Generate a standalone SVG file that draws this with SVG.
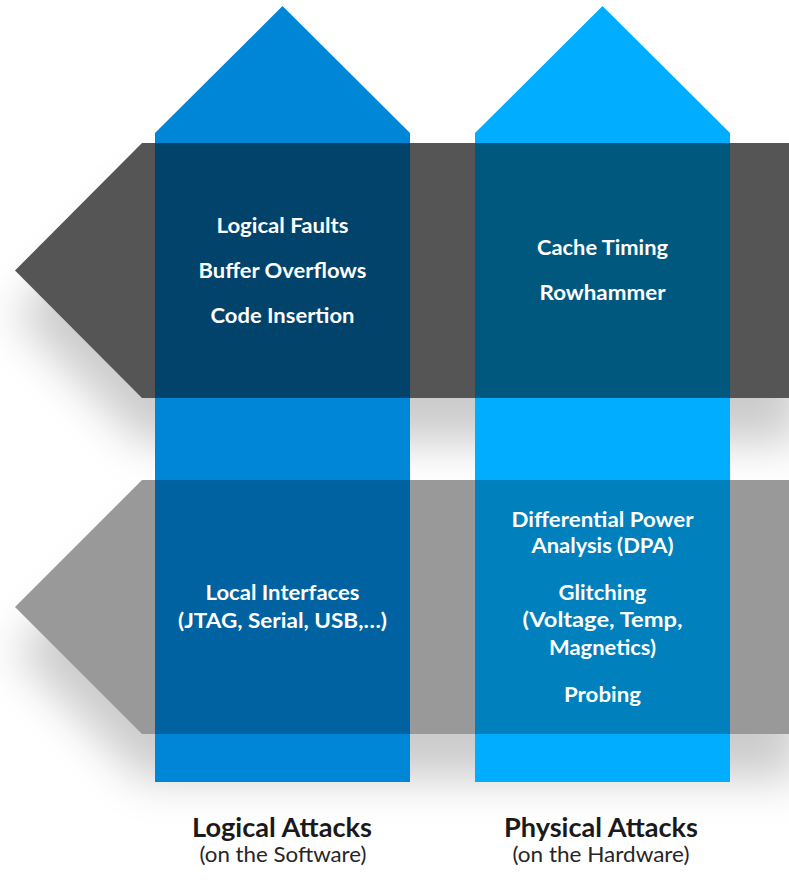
<svg xmlns="http://www.w3.org/2000/svg" width="789" height="880" viewBox="0 0 789 880">
<defs>
<filter id="soft" filterUnits="userSpaceOnUse" x="-100" y="0" width="1000" height="1000">
<feGaussianBlur stdDeviation="22"/>
</filter>
<style>
.w{font-family:Lato,"Open Sans","Liberation Sans",sans-serif;font-weight:700;font-size:20px;fill:#ffffff;text-anchor:middle}
.h{font-family:Lato,"Open Sans","Liberation Sans",sans-serif;font-weight:700;font-size:26px;fill:#1a1a1a;text-anchor:middle}
.s{font-family:Lato,"Open Sans","Liberation Sans",sans-serif;font-weight:400;font-size:21px;fill:#262626;text-anchor:middle}
</style>
</defs>
<rect width="789" height="880" fill="#ffffff"/>
<g id="shadows" filter="url(#soft)" fill="#000000" fill-opacity="0.2">
<polygon points="800,188 142,188 15,315.5 142,443 800,443"/>
<polygon points="800,525 142,525 15,652 142,779 800,779"/>
</g>
<g id="software-band">
<polygon points="789,143 142,143 15,270.5 142,398 789,398" fill="#555555"/>
</g>
<g id="hardware-band">
<polygon points="789,480 142,480 15,607 142,734 789,734" fill="#999999"/>
</g>
<g id="logical-arrow">
<polygon points="155,133 282.5,6 410,133 410,782 155,782" fill="#0086D6"/>
</g>
<g id="physical-arrow">
<polygon points="475,133 602.5,6 730,133 730,782 475,782" fill="#00ADFF"/>
</g>
<g id="logical-software">
<rect x="155" y="143" width="255" height="255" fill="#02436B"/>
<text class="w" x="282.5" y="233" textLength="132" lengthAdjust="spacingAndGlyphs">Logical Faults</text>
<text class="w" x="282.5" y="278" textLength="168" lengthAdjust="spacingAndGlyphs">Buffer Overflows</text>
<text class="w" x="282.5" y="323" textLength="144" lengthAdjust="spacingAndGlyphs">Code Insertion</text>
</g>
<g id="physical-software">
<rect x="475" y="143" width="255" height="255" fill="#01587F"/>
<text class="w" x="602.5" y="255" textLength="131" lengthAdjust="spacingAndGlyphs">Cache Timing</text>
<text class="w" x="602.5" y="300" textLength="126" lengthAdjust="spacingAndGlyphs">Rowhammer</text>
</g>
<g id="logical-hardware">
<rect x="155" y="480" width="255" height="254" fill="#0062A0"/>
<text class="w" x="282.5" y="600" textLength="154" lengthAdjust="spacingAndGlyphs">Local Interfaces</text>
<text class="w" x="282.5" y="628" textLength="209" lengthAdjust="spacingAndGlyphs">(JTAG, Serial, USB,…)</text>
</g>
<g id="physical-hardware">
<rect x="475" y="480" width="255" height="254" fill="#0080BC"/>
<text class="w" x="602.5" y="527" textLength="182" lengthAdjust="spacingAndGlyphs">Differential Power</text>
<text class="w" x="602.5" y="553" textLength="142" lengthAdjust="spacingAndGlyphs">Analysis (DPA)</text>
<text class="w" x="602.5" y="600" textLength="88" lengthAdjust="spacingAndGlyphs">Glitching</text>
<text class="w" x="602.5" y="627" textLength="160" lengthAdjust="spacingAndGlyphs">(Voltage, Temp,</text>
<text class="w" x="602.5" y="655" textLength="107" lengthAdjust="spacingAndGlyphs">Magnetics)</text>
<text class="w" x="602.5" y="702" textLength="77" lengthAdjust="spacingAndGlyphs">Probing</text>
</g>
<g id="logical-label">
<text class="h" x="282" y="837" textLength="180" lengthAdjust="spacingAndGlyphs">Logical Attacks</text>
<text class="s" x="283" y="862" textLength="167" lengthAdjust="spacingAndGlyphs">(on the Software)</text>
</g>
<g id="physical-label">
<text class="h" x="601" y="837" textLength="194" lengthAdjust="spacingAndGlyphs">Physical Attacks</text>
<text class="s" x="601" y="862" textLength="177" lengthAdjust="spacingAndGlyphs">(on the Hardware)</text>
</g>
</svg>
